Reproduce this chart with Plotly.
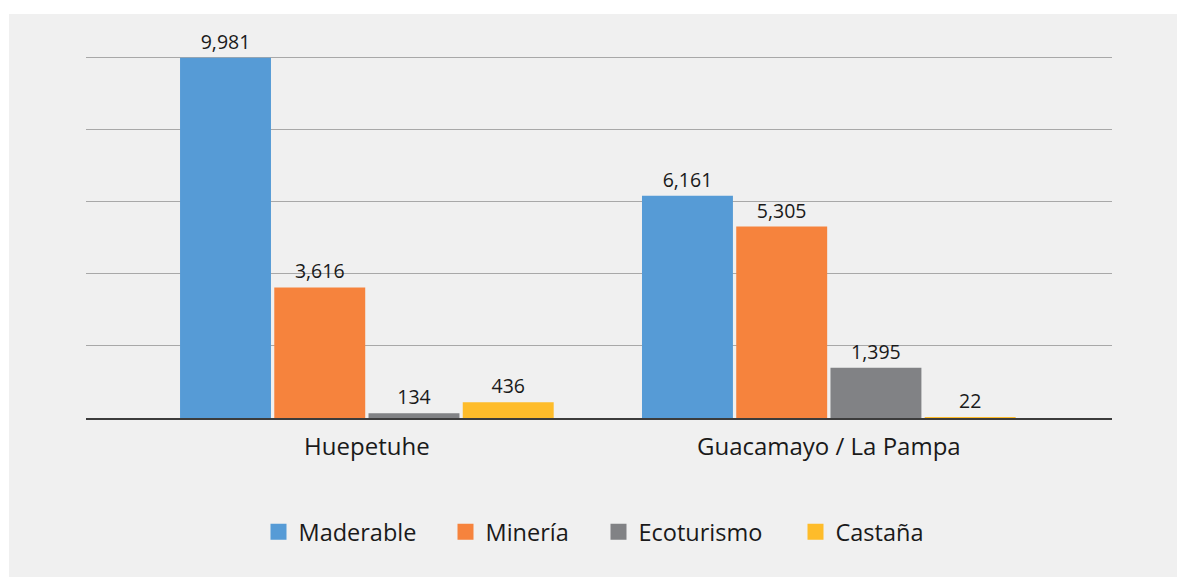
import plotly.graph_objects as go

categories = ["Huepetuhe", "Guacamayo / La Pampa"]
series_names = ["Maderable", "Minería", "Ecoturismo", "Castaña"]
maderable = [9981, 6161]
mineria = [3616, 5305]
ecoturismo = [134, 1395]
castana = [436, 22]
colors = ["#569BD6", "#F6833D", "#818285", "#FEBC2A"]
legend_px = [258.5, 445.5, 598.5, 795.5]  # left edge of each legend entry (px)

series_values = [maderable, mineria, ecoturismo, castana]
xpos = list(range(len(categories)))

FONT = "Open Sans"
L, R, T, B = 86, 65, 56, 159
PW = 1177 - L - R
fig = go.Figure()
for name, vals, col in zip(series_names, series_values, colors):
    fig.add_trace(go.Bar(
        x=xpos, y=vals, name=name, marker=dict(color=col, line=dict(width=0)),
        texttemplate="%{y:,}", textposition="outside",
        textfont=dict(family=FONT, size=19.5, color="#1a1a1a"),
        cliponaxis=False, showlegend=False, legendgroup=name,
    ))
legend_ids = ["legend", "legend2", "legend3", "legend4"]
for name, col, lid in zip(series_names, colors, legend_ids):
    fig.add_trace(go.Scatter(
        x=[None], y=[None], mode="markers", name=name, legendgroup=name,
        legend=lid, marker=dict(symbol="square", size=17, color=col),
    ))

fig.add_shape(type="rect", xref="paper", yref="paper",
              x0=(9 - L) / PW, x1=(1180 - L) / PW,
              y0=(418 - 580) / 362, y1=(418 - 14) / 362,
              fillcolor="#f0f0f0", line=dict(width=0), layer="below")

leg_common = dict(orientation="h", xanchor="left", y=-0.315, yanchor="middle",
                  font=dict(family=FONT, size=23.5, color="#1a1a1a"),
                  bgcolor="rgba(0,0,0,0)", itemsizing="trace")
legends = {lid: dict(leg_common, x=(px - L) / PW) for lid, px in zip(legend_ids, legend_px)}

fig.update_layout(
    width=1177, height=577,
    margin=dict(l=L, r=R, t=T, b=B),
    paper_bgcolor="white", plot_bgcolor="#f0f0f0",
    barmode="group", bargap=0.184, bargroupgap=0.035,
    font=dict(family=FONT, color="#1a1a1a"),
    xaxis=dict(tickmode="array", tickvals=xpos, ticktext=categories,
               range=[-0.608, 1.613], showgrid=False, zeroline=False,
               showline=True, linecolor="#3c3c3c", linewidth=2,
               ticks="", tickfont=dict(family=FONT, size=24, color="#1a1a1a"),
               ticklabelstandoff=6, fixedrange=True),
    yaxis=dict(range=[0, 10030], dtick=2000, showticklabels=False,
               showgrid=True, gridcolor="#a8a8a8", gridwidth=1,
               zeroline=False, fixedrange=True),
    **legends,
)

fig.write_html("out.html", config={"displayModeBar": False})
with open("out.html", encoding="utf-8") as f:
    html = f.read()
html = html.replace("<head>", "<head><style>html,body{margin:0;padding:0;overflow:hidden;}</style>", 1)
with open("out.html", "w", encoding="utf-8") as f:
    f.write(html)
